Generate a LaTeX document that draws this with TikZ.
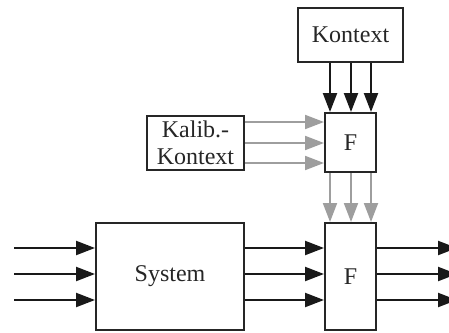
\documentclass[tikz,border=0pt]{standalone}
\usepackage{fontspec}
\setmainfont{Liberation Serif}
\usetikzlibrary{arrows.meta}
\begin{document}
\begin{tikzpicture}[x=1pt,y=-1pt,
  box/.style={draw=black!85,line width=2pt,inner sep=0pt,align=center,font=\fontsize{24}{27}\selectfont,text=black!85},
  barr/.style={draw=black!90,line width=2.2pt,-{Triangle[length=19pt,width=14pt]}},
  garr/.style={draw=black!38,line width=2pt,-{Triangle[length=19pt,width=14pt]}}]
\useasboundingbox (0,0) rectangle (449,332);
\node[box,minimum width=105pt,minimum height=54pt] (ktx) at (350.5,35) {Kontext};
\node[box,minimum width=51pt,minimum height=59pt] (fu) at (350.5,142.5) {F};
\node[box,minimum width=97pt,minimum height=54pt] (kal) at (195.5,143) {Kalib.-\\Kontext};
\node[box,minimum width=51pt,minimum height=107pt] (fl) at (350.5,276.5) {F};
\node[box,minimum width=148pt,minimum height=107pt] (sys) at (170,276.5) {System};
\foreach \x in {330,351,371}{
  \draw[barr] (ktx.south -| \x,0) -- (fu.north -| \x,0);
  \draw[garr] (fu.south -| \x,0) -- (fl.north -| \x,0);
}
\foreach \y in {122,143,163}{
  \draw[garr] (kal.east |- 0,\y) -- (fu.west |- 0,\y);
}
\foreach \y [count=\i] in {248,274,300}{
  \coordinate (in\i) at (14,\y);
  \coordinate (out\i) at (457,\y);
  \draw[barr] (in\i) -- (sys.west |- in\i);
  \draw[barr] (sys.east |- in\i) -- (fl.west |- in\i);
  \draw[barr] (fl.east |- in\i) -- (out\i);
}
\end{tikzpicture}
\end{document}
